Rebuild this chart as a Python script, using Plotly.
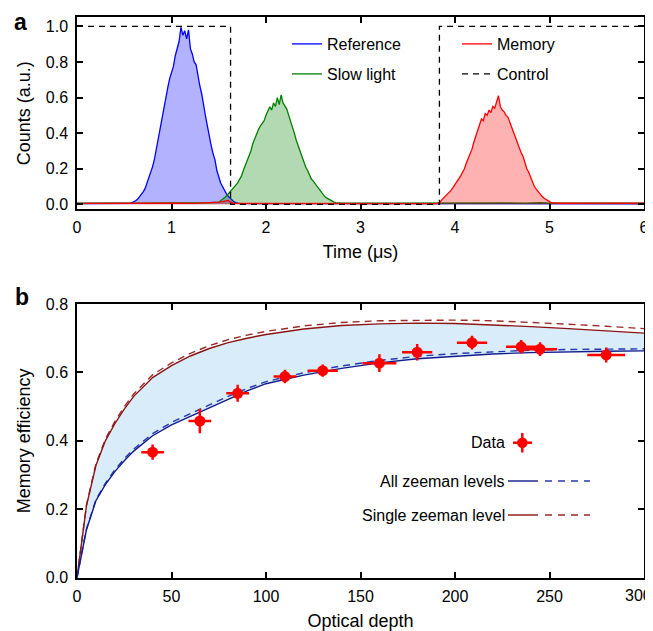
import plotly.graph_objects as go

# The page body has an 8px margin, so the figure is 645x623 and placed at (8, 8).
OFF = 8
W, H = 653 - OFF, 631 - OFF
def xp(px): return (px - OFF) / W
def yp(py): return 1 - (py - OFF) / H

# ---------------- Panel a data ----------------
t_ref = [0.0, 0.25, 0.5, 0.52, 0.54, 0.56, 0.58, 0.60, 0.62, 0.64, 0.66, 0.68, 0.70, 0.72, 0.74, 0.76, 0.78,
         0.80, 0.82, 0.84, 0.86, 0.88, 0.90, 0.92, 0.94, 0.96, 0.98, 1.00, 1.02, 1.04, 1.06, 1.08, 1.10,
         1.12, 1.14, 1.16, 1.18, 1.20, 1.22, 1.24, 1.26, 1.28, 1.30, 1.32, 1.34, 1.36, 1.38, 1.40, 1.42,
         1.44, 1.46, 1.48, 1.50, 1.52, 1.54, 1.56, 1.58, 1.60, 1.62, 1.64, 1.66, 1.68, 1.70, 1.72, 2.0,
         2.5, 3.0, 3.5, 4.0, 4.5, 5.0, 5.5, 6.0]
c_ref = [0.004, 0.005, 0.003, 0.005, 0.004, 0.006, 0.008, 0.012, 0.020, 0.028, 0.040, 0.052, 0.070, 0.088,
         0.118, 0.140, 0.172, 0.212, 0.255, 0.315, 0.368, 0.425, 0.475, 0.535, 0.605, 0.655, 0.705, 0.735,
         0.775, 0.835, 0.875, 0.915, 0.995, 0.950, 0.975, 0.930, 0.980, 0.875, 0.845, 0.800, 0.785, 0.720,
         0.665, 0.620, 0.550, 0.495, 0.440, 0.375, 0.330, 0.285, 0.250, 0.190, 0.150, 0.120, 0.100, 0.075,
         0.060, 0.045, 0.034, 0.020, 0.015, 0.010, 0.006, 0.004, 0.004, 0.004, 0.003, 0.004, 0.003, 0.004,
         0.003, 0.004, 0.003]

t_slow = [0.0, 0.25, 0.5, 0.75, 1.0, 1.25, 1.4, 1.50, 1.52, 1.54, 1.56, 1.58, 1.60, 1.62, 1.64, 1.66, 1.68,
          1.70, 1.72, 1.74, 1.76, 1.78, 1.80, 1.82, 1.84, 1.86, 1.88, 1.90, 1.92, 1.94, 1.96, 1.98, 2.00,
          2.02, 2.04, 2.06, 2.08, 2.10, 2.12, 2.14, 2.16, 2.18, 2.20, 2.22, 2.24, 2.26, 2.28, 2.30, 2.32,
          2.34, 2.36, 2.38, 2.40, 2.42, 2.44, 2.46, 2.48, 2.50, 2.52, 2.54, 2.56, 2.58, 2.60, 2.62, 2.64,
          2.66, 2.68, 2.70, 2.72, 2.74, 2.76, 2.80, 3.0, 3.25, 3.5, 3.75, 4.0, 4.25, 4.5, 4.75, 4.9, 5.0,
          5.25, 5.5, 5.75, 6.0]
c_slow = [0.007, 0.006, 0.008, 0.007, 0.008, 0.007, 0.009, 0.012, 0.020, 0.028, 0.035, 0.045, 0.058, 0.070,
          0.082, 0.092, 0.108, 0.120, 0.140, 0.158, 0.190, 0.215, 0.240, 0.275, 0.300, 0.340, 0.370, 0.395,
          0.420, 0.440, 0.452, 0.470, 0.500, 0.520, 0.548, 0.530, 0.570, 0.550, 0.600, 0.560, 0.615, 0.570,
          0.550, 0.535, 0.500, 0.470, 0.440, 0.400, 0.360, 0.330, 0.300, 0.262, 0.232, 0.210, 0.190, 0.165,
          0.142, 0.130, 0.115, 0.100, 0.085, 0.070, 0.055, 0.045, 0.036, 0.030, 0.020, 0.015, 0.012, 0.010,
          0.008, 0.007, 0.006, 0.007, 0.006, 0.007, 0.008, 0.007, 0.008, 0.007, 0.010, 0.007, 0.008, 0.007,
          0.008, 0.007]

t_mem = [0.0, 0.25, 0.5, 0.75, 1.0, 1.25, 1.45, 1.50, 1.54, 1.58, 1.60, 1.63, 1.66, 2.0, 2.5, 3.0, 3.5, 3.80,
         3.82, 3.84, 3.86, 3.88, 3.90, 3.92, 3.94, 3.96, 3.98, 4.00, 4.02, 4.04, 4.06, 4.08, 4.10, 4.12,
         4.14, 4.16, 4.18, 4.20, 4.22, 4.24, 4.26, 4.28, 4.30, 4.32, 4.34, 4.36, 4.38, 4.40, 4.42, 4.44,
         4.46, 4.48, 4.50, 4.52, 4.54, 4.56, 4.58, 4.60, 4.62, 4.64, 4.66, 4.68, 4.70, 4.72, 4.74, 4.76,
         4.78, 4.80, 4.82, 4.84, 4.86, 4.88, 4.90, 4.92, 4.94, 4.96, 4.98, 5.00, 5.02, 5.06, 5.10, 5.5, 6.0]
c_mem = [0.005, 0.006, 0.005, 0.007, 0.006, 0.005, 0.008, 0.012, 0.015, 0.020, 0.022, 0.012, 0.005, 0.005,
         0.004, 0.005, 0.004, 0.004, 0.006, 0.012, 0.025, 0.035, 0.045, 0.055, 0.068, 0.080, 0.095, 0.110,
         0.128, 0.140, 0.160, 0.180, 0.200, 0.232, 0.258, 0.282, 0.310, 0.350, 0.380, 0.420, 0.450, 0.480,
         0.470, 0.510, 0.500, 0.530, 0.515, 0.550, 0.540, 0.570, 0.610, 0.550, 0.530, 0.520, 0.500, 0.490,
         0.460, 0.430, 0.400, 0.380, 0.350, 0.320, 0.290, 0.270, 0.232, 0.200, 0.180, 0.150, 0.120, 0.100,
         0.085, 0.070, 0.055, 0.045, 0.035, 0.027, 0.020, 0.015, 0.010, 0.008, 0.006, 0.007, 0.006]

t_ctrl = [0.0, 1.625, 1.625, 3.835, 3.835, 6.0]
c_ctrl = [1.0, 1.0, 0.0, 0.0, 1.0, 1.0]

# ---------------- Panel b data ----------------
od_curve = [0, 5, 10, 15, 20, 25, 30, 40, 50, 60, 70, 80, 90, 100, 120, 140, 160, 180, 200, 220, 240, 260, 280, 300]
single_solid = [0, 0.210, 0.328, 0.400, 0.450, 0.493, 0.530, 0.585, 0.620, 0.648, 0.670, 0.687, 0.700, 0.711,
                0.727, 0.737, 0.742, 0.744, 0.743, 0.739, 0.734, 0.728, 0.722, 0.715]
single_dash = [0, 0.212, 0.332, 0.405, 0.456, 0.500, 0.537, 0.593, 0.628, 0.656, 0.678, 0.696, 0.709, 0.720,
               0.736, 0.746, 0.751, 0.753, 0.753, 0.751, 0.747, 0.741, 0.735, 0.728]
all_solid = [0, 0.140, 0.225, 0.272, 0.310, 0.342, 0.370, 0.415, 0.447, 0.472, 0.497, 0.523, 0.546, 0.567,
             0.592, 0.612, 0.628, 0.640, 0.648, 0.654, 0.658, 0.661, 0.662, 0.663]
all_dash = [0, 0.142, 0.228, 0.276, 0.315, 0.348, 0.376, 0.421, 0.454, 0.480, 0.505, 0.530, 0.553, 0.573,
            0.599, 0.619, 0.635, 0.647, 0.655, 0.661, 0.665, 0.667, 0.668, 0.669]

od_data = [40, 65, 85, 110, 130, 160, 180, 209, 235, 245, 280]
eff_data = [0.367, 0.458, 0.539, 0.588, 0.605, 0.627, 0.659, 0.687, 0.675, 0.668, 0.651]
od_err = [6, 6, 6, 6, 8, 9, 8, 8, 8, 9, 10]
eff_err = [0.022, 0.036, 0.025, 0.02, 0.018, 0.026, 0.024, 0.02, 0.02, 0.02, 0.022]

od_ticks = [0, 50, 100, 150, 200, 250, 300]
od_ticktext = ["0", "50", "100", "150", "200", "250", ""]   # last label drawn right-aligned at the edge

FONT = "Liberation Sans, Arial, Helvetica, sans-serif"
fig = go.Figure()

# Panel a traces
fig.add_trace(go.Scatter(x=t_ref, y=c_ref, mode="lines", line=dict(color="#0000ff", width=1.3),
                         fill="tozeroy", fillcolor="rgba(0,0,255,0.3)", showlegend=False, xaxis="x", yaxis="y"))
fig.add_trace(go.Scatter(x=t_slow, y=c_slow, mode="lines", line=dict(color="#008000", width=1.3),
                         fill="tozeroy", fillcolor="rgba(0,128,0,0.3)", showlegend=False, xaxis="x", yaxis="y"))
fig.add_trace(go.Scatter(x=t_mem, y=c_mem, mode="lines", line=dict(color="#ff0000", width=1.3),
                         fill="tozeroy", fillcolor="rgba(255,0,0,0.3)", showlegend=False, xaxis="x", yaxis="y"))
fig.add_trace(go.Scatter(x=t_ctrl, y=c_ctrl, mode="lines", line=dict(color="black", width=1.3, dash="6px,5px"),
                         showlegend=False, xaxis="x", yaxis="y"))
# legend entries for panel a
for name, col, dash, lg in [("Reference", "#0000ff", "solid", "legend"),
                            ("Slow light", "#008000", "solid", "legend2"),
                            ("Memory", "#ff0000", "solid", "legend3"),
                            ("Control", "black", "6px,5px", "legend4")]:
    fig.add_trace(go.Scatter(x=[None], y=[None], mode="lines", name=name,
                             line=dict(color=col, width=1.3, dash=dash), legend=lg, xaxis="x", yaxis="y"))

# Panel b traces
fig.add_trace(go.Scatter(x=od_curve, y=all_solid, mode="lines", line=dict(width=0, color="rgba(0,0,0,0)"),
                         showlegend=False, xaxis="x2", yaxis="y2", hoverinfo="skip"))
fig.add_trace(go.Scatter(x=od_curve, y=single_solid, mode="lines", line=dict(width=0, color="rgba(0,0,0,0)"),
                         fill="tonexty", fillcolor="#d8edf9", showlegend=False, xaxis="x2", yaxis="y2",
                         hoverinfo="skip"))
fig.add_trace(go.Scatter(x=od_curve, y=single_dash, mode="lines", line=dict(color="#9b2a2a", width=1.4, dash="7px,5px"),
                         showlegend=False, xaxis="x2", yaxis="y2"))
fig.add_trace(go.Scatter(x=od_curve, y=single_solid, mode="lines", line=dict(color="#8b1414", width=1.4),
                         showlegend=False, xaxis="x2", yaxis="y2"))
fig.add_trace(go.Scatter(x=od_curve, y=all_dash, mode="lines", line=dict(color="#2838b0", width=1.4, dash="7px,5px"),
                         showlegend=False, xaxis="x2", yaxis="y2"))
fig.add_trace(go.Scatter(x=od_curve, y=all_solid, mode="lines", line=dict(color="#101c8c", width=1.4),
                         showlegend=False, xaxis="x2", yaxis="y2"))
fig.add_trace(go.Scatter(x=od_data, y=eff_data, mode="markers",
                         marker=dict(color="#ff0000", size=11),
                         error_x=dict(type="data", array=od_err, color="#ff0000", thickness=2.5, width=0),
                         error_y=dict(type="data", array=eff_err, color="#ff0000", thickness=2.5, width=0),
                         showlegend=False, xaxis="x2", yaxis="y2"))

axcommon = dict(showline=True, linecolor="black", linewidth=1.5, mirror="ticks", ticks="inside",
                ticklen=6, tickwidth=1.5, tickcolor="black", showgrid=False, zeroline=False,
                tickfont=dict(family=FONT, size=16, color="black"), automargin=False,
                ticklabeloverflow="allow")
titlefont = dict(family=FONT, size=18, color="black")

fig.update_layout(
    width=W, height=H, margin=dict(l=0, r=0, t=0, b=0),
    paper_bgcolor="white", plot_bgcolor="white",
    font=dict(family=FONT, size=16, color="black"),
    xaxis=dict(domain=[xp(77), xp(644)], range=[0, 6], tickvals=[0, 1, 2, 3, 4, 5, 6],
               title=dict(text="Time (μs)", font=titlefont, standoff=10), ticklabelstandoff=3,
               anchor="y", **axcommon),
    yaxis=dict(domain=[yp(209.3), yp(17.3)], range=[-0.028, 1.051], tickvals=[0, 0.2, 0.4, 0.6, 0.8, 1.0],
               tickformat=".1f", title=dict(text="Counts (a.u.)", font=titlefont, standoff=10),
               ticklabelstandoff=4, anchor="x", **axcommon),
    xaxis2=dict(domain=[xp(77), xp(644)], range=[0, 300], tickvals=od_ticks, ticktext=od_ticktext,
                title=dict(text="Optical depth", font=titlefont, standoff=11), ticklabelstandoff=3,
                anchor="y2", **axcommon),
    yaxis2=dict(domain=[yp(577.7), yp(304)], range=[0, 0.8], tickvals=[0, 0.2, 0.4, 0.6, 0.8],
                tickformat=".1f", title=dict(text="Memory efficiency", font=titlefont, standoff=10),
                ticklabelstandoff=4, anchor="x2", **axcommon),
)

leg = dict(xanchor="left", yanchor="middle", bgcolor="rgba(0,0,0,0)", borderwidth=0,
           font=dict(family=FONT, size=16, color="black"), itemwidth=30, tracegroupgap=0)
fig.update_layout(
    legend=dict(x=xp(287), y=yp(44), **leg),
    legend2=dict(x=xp(287), y=yp(74), **leg),
    legend3=dict(x=xp(457), y=yp(44), **leg),
    legend4=dict(x=xp(457), y=yp(74), **leg),
)

# "300" label kept inside the page, right-aligned at the edge
fig.add_annotation(text=str(od_ticks[-1]), x=1.0, y=yp(595), xref="paper", yref="paper", xanchor="right",
                   yanchor="middle", showarrow=False, borderpad=0,
                   font=dict(family=FONT, size=16, color="black"))

# Panel labels
fig.add_annotation(text="<b>a</b>", x=xp(13), y=1.0, xref="paper", yref="paper", xanchor="left",
                   yanchor="top", showarrow=False, borderpad=0, font=dict(family=FONT, size=23, color="black"))
fig.add_annotation(text="<b>b</b>", x=xp(13), y=yp(297), xref="paper", yref="paper", xanchor="left",
                   yanchor="middle", showarrow=False, font=dict(family=FONT, size=23, color="black"))

# Manual legend for panel b (text left of symbol)
legfont = dict(family=FONT, size=16, color="black")
for txt, yy in [("Data", 442.7), ("All zeeman levels", 481), ("Single zeeman level", 515)]:
    fig.add_annotation(text=txt, x=xp(507), y=yp(yy), xref="paper", yref="paper", xanchor="right",
                       yanchor="middle", showarrow=False, font=legfont)
# Data symbol
fig.add_shape(type="line", x0=xp(513), x1=xp(532), y0=yp(442.7), y1=yp(442.7), xref="paper", yref="paper",
              line=dict(color="#ff0000", width=2.5))
fig.add_shape(type="line", x0=xp(522.3), x1=xp(522.3), y0=yp(433), y1=yp(452.5), xref="paper", yref="paper",
              line=dict(color="#ff0000", width=2.5))
fig.add_shape(type="circle", x0=xp(517), x1=xp(527.6), y0=yp(437.4), y1=yp(448), xref="paper", yref="paper",
              fillcolor="#ff0000", line=dict(width=0))
for yy, csol, cdash in [(481, "#101c8c", "#2838b0"), (515, "#8b1414", "#9b2a2a")]:
    fig.add_shape(type="line", x0=xp(508), x1=xp(538), y0=yp(yy), y1=yp(yy), xref="paper", yref="paper",
                  line=dict(color=csol, width=1.4))
    fig.add_shape(type="line", x0=xp(545), x1=xp(590), y0=yp(yy), y1=yp(yy), xref="paper", yref="paper",
                  line=dict(color=cdash, width=1.4, dash="7px,6px"))

fig.write_html("out.html")
